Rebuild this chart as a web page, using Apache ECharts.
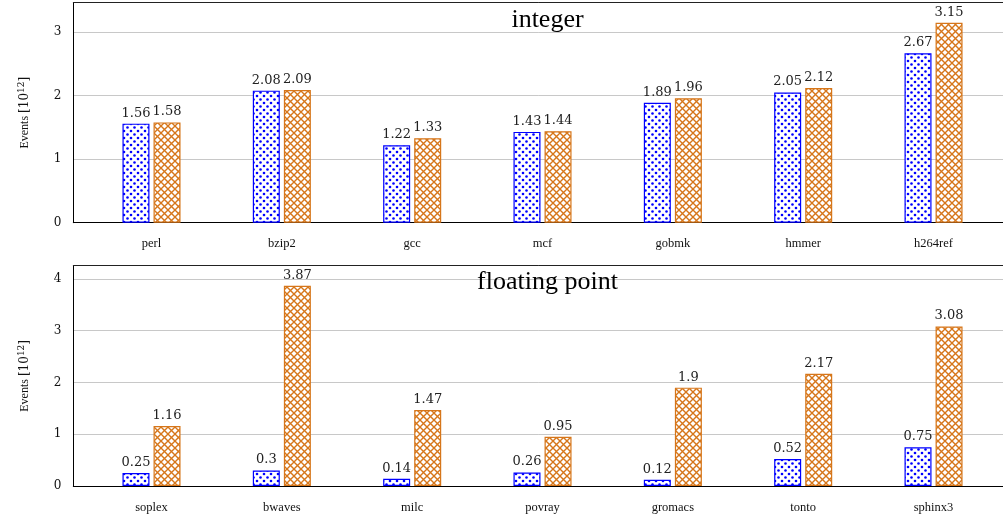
<!DOCTYPE html>
<html>
<head>
<meta charset="utf-8">
<script src="https://cdn.jsdelivr.net/npm/echarts@6/dist/echarts.min.js"></script>
<style>html,body{margin:0;padding:0;background:#fff;}#chart{width:1003px;height:516px;}</style>
</head>
<body>
<div id="chart"></div>
<script>
// ---- data ----
const intCategories = ['perl', 'bzip2', 'gcc', 'mcf', 'gobmk', 'hmmer', 'h264ref'];
const intSeriesA = [1.56, 2.08, 1.22, 1.43, 1.89, 2.05, 2.67];
const intSeriesB = [1.58, 2.09, 1.33, 1.44, 1.96, 2.12, 3.15];
const fpCategories = ['soplex', 'bwaves', 'milc', 'povray', 'gromacs', 'tonto', 'sphinx3'];
const fpSeriesA = [0.25, 0.3, 0.14, 0.26, 0.12, 0.52, 0.75];
const fpSeriesB = [1.16, 3.87, 1.47, 0.95, 1.9, 2.17, 3.08];
const intTicks = [0, 1, 2, 3];
const fpTicks = [0, 1, 2, 3, 4];
const positions = [0, 1, 2, 3, 4, 5, 6];

const BLUE = '#0000ff';
const ORANGE = '#d6761a';

function dotsPattern() {
  const c = document.createElement('canvas');
  c.width = 7; c.height = 7;
  const g = c.getContext('2d');
  g.fillStyle = '#fff'; g.fillRect(0, 0, 7, 7);
  g.fillStyle = BLUE;
  g.beginPath(); g.arc(1.5, 1.5, 1.3, 0, Math.PI * 2); g.fill();
  g.beginPath(); g.arc(5, 5, 1.3, 0, Math.PI * 2); g.fill();
  return c;
}
function hatchPattern() {
  const s = 7;
  const c = document.createElement('canvas');
  c.width = s; c.height = s;
  const g = c.getContext('2d');
  g.fillStyle = '#fff'; g.fillRect(0, 0, s, s);
  g.strokeStyle = ORANGE; g.lineWidth = 1.4;
  g.beginPath();
  g.moveTo(-1, -1); g.lineTo(s + 1, s + 1);
  g.moveTo(s + 1, -1); g.lineTo(-1, s + 1);
  g.stroke();
  return c;
}
const dots = { image: dotsPattern(), repeat: 'repeat' };
const hatch = { image: hatchPattern(), repeat: 'repeat' };

const pairs = (vals) => vals.map((v, i) => [positions[i], v]);

const chart = echarts.init(document.getElementById('chart'), null, { renderer: 'canvas' });

const X_MIN = -0.6, X_MAX = 6.533;

function xAxisFor(gridIndex, cats) {
  return {
    type: 'value', gridIndex, min: X_MIN, max: X_MAX,
    splitLine: { show: false },
    axisTick: { show: false },
    axisLine: { show: true, onZero: false, lineStyle: { color: '#000', width: 1 } },
    axisLabel: {
      customValues: positions,
      formatter: (v) => cats[Math.round(v)],
      fontFamily: 'Liberation Serif', fontSize: 12.5, color: '#111', margin: 15
    }
  };
}
function topFrameAxis(gridIndex) {
  return {
    type: 'value', gridIndex, position: 'top', min: X_MIN, max: X_MAX,
    splitLine: { show: false }, axisTick: { show: false }, axisLabel: { show: false },
    axisLine: { show: true, onZero: false, lineStyle: { color: '#222', width: 1 } }
  };
}
function yAxisFor(gridIndex, max, ticks) {
  return {
    type: 'value', gridIndex, min: 0, max, interval: 1,
    axisLine: { show: true, onZero: false, lineStyle: { color: '#000', width: 1 } },
    axisTick: { show: false },
    splitLine: { show: true, lineStyle: { color: '#c8c8c8', width: 1 } },
    axisLabel: {
      customValues: ticks,
      fontFamily: 'DejaVu Serif', fontSize: 12, color: '#111', margin: 12
    },
    name: '{a|Events }{b|[10}{s|12}{b|]}',
    nameLocation: 'middle', nameGap: 40, nameRotate: 90,
    nameTextStyle: {
      rich: {
        a: { fontFamily: 'Liberation Serif', fontSize: 12, color: '#111' },
        b: { fontFamily: 'DejaVu Serif', fontSize: 12, color: '#111' },
        s: { fontFamily: 'DejaVu Serif', fontSize: 9, color: '#111', padding: [0, 0, 7, 0] }
      }
    }
  };
}
function barSeries(xi, data, color, borderColor) {
  return {
    type: 'bar', xAxisIndex: xi, yAxisIndex: xi,
    data: pairs(data),
    barWidth: 27, barGap: '15%',
    itemStyle: { color, borderColor, borderWidth: 1.2 },
    label: {
      show: true, position: 'top', distance: 4,
      formatter: (p) => String(p.value[1]),
      fontFamily: 'DejaVu Serif', fontSize: 13, color: '#222'
    }
  };
}

chart.setOption({
  animation: false,
  backgroundColor: '#fff',
  title: [
    { text: 'integer', left: 542.5, top: 2, textAlign: 'center',
      textStyle: { fontFamily: 'Liberation Serif', fontSize: 26, fontWeight: 'normal', color: '#000' } },
    { text: 'floating point', left: 542.5, top: 264, textAlign: 'center',
      textStyle: { fontFamily: 'Liberation Serif', fontSize: 26, fontWeight: 'normal', color: '#000' } }
  ],
  grid: [
    { left: 73.3, top: 2.7, right: 0, height: 220 },
    { left: 73.3, top: 265.7, right: 0, height: 220.3 }
  ],
  xAxis: [xAxisFor(0, intCategories), xAxisFor(1, fpCategories), topFrameAxis(0), topFrameAxis(1)],
  yAxis: [yAxisFor(0, 3.465, intTicks), yAxisFor(1, 4.257, fpTicks)],
  series: [
    barSeries(0, intSeriesA, dots, BLUE),
    barSeries(0, intSeriesB, hatch, ORANGE),
    barSeries(1, fpSeriesA, dots, BLUE),
    barSeries(1, fpSeriesB, hatch, ORANGE)
  ]
});
</script>
</body>
</html>
